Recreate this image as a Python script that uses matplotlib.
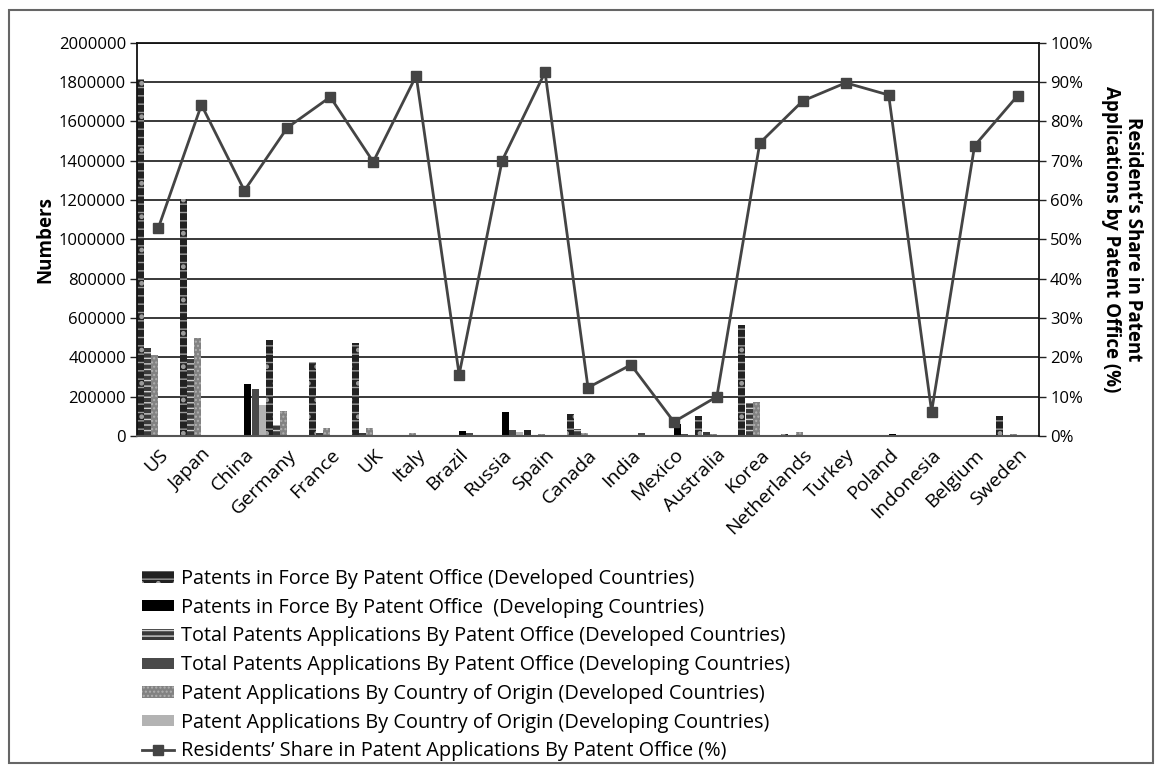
import numpy as np
import matplotlib
matplotlib.use("Agg")
import matplotlib.pyplot as plt
from matplotlib.patches import Rectangle

plt.rcParams['font.family'] = ['Open Sans', 'DejaVu Sans']
plt.rcParams['hatch.linewidth'] = 1.0

nan = np.nan

countries = ["US", "Japan", "China", "Germany", "France", "UK", "Italy", "Brazil",
             "Russia", "Spain", "Canada", "India", "Mexico", "Australia", "Korea",
             "Netherlands", "Turkey", "Poland", "Indonesia", "Belgium", "Sweden"]

# Developed-country series
pif_developed = [1817000, 1205000, nan, 488000, 376000, 475000, 0, nan,
                 nan, 30000, 112000, nan, nan, 102000, 565000,
                 10000, nan, nan, nan, 0, 102000]
tpa_developed = [450000, 390000, nan, 56000, 15000, 17000, 5000, nan,
                 nan, 2000, 36000, nan, nan, 20000, 168000,
                 2000, nan, nan, nan, 1000, 2000]
pao_developed = [410000, 497000, nan, 127000, 42000, 42000, 15000, nan,
                 nan, 8000, 15000, nan, nan, 10000, 173000,
                 20000, nan, nan, nan, 5000, 10000]

# Developing-country series
pif_developing = [nan, nan, 264000, nan, nan, nan, nan, 25000,
                  122000, nan, nan, 3000, 61000, nan, nan,
                  nan, 3000, 10000, 0, nan, nan]
tpa_developing = [nan, nan, 239000, nan, nan, nan, nan, 15000,
                  30000, nan, nan, 15000, 10000, nan, nan,
                  nan, 1000, 1000, 0, nan, nan]
pao_developing = [nan, nan, 158000, nan, nan, nan, nan, 2000,
                  20000, nan, nan, 1000, 2000, nan, nan,
                  nan, 500, 500, 0, nan, nan]

# Residents' share in applications (%)
resident_share = [53.0, 84.2, 62.4, 78.4, 86.2, 69.7, 91.6, 15.6,
                  70.0, 92.5, 12.3, 18.1, 3.6, 10.0, 74.5,
                  85.2, 89.8, 86.7, 6.2, 73.8, 86.5]

y_ticks = list(range(0, 2000001, 200000))
pct_ticks = list(range(0, 101, 10))

series = [
    ("Patents in Force By Patent Office (Developed Countries)", pif_developed,
     dict(facecolor='#222222', edgecolor='#9c9c9c', hatch='--.')),
    ("Patents in Force By Patent Office  (Developing Countries)", pif_developing,
     dict(facecolor='#000000', edgecolor='#000000')),
    ("Total Patents Applications By Patent Office (Developed Countries)", tpa_developed,
     dict(facecolor='#3a3a3a', edgecolor='#cfcfcf', hatch='---')),
    ("Total Patents Applications By Patent Office (Developing Countries)", tpa_developing,
     dict(facecolor='#4a4a4a', edgecolor='#4a4a4a')),
    ("Patent Applications By Country of Origin (Developed Countries)", pao_developed,
     dict(facecolor='#828282', edgecolor='#b0b0b0', hatch='....')),
    ("Patent Applications By Country of Origin (Developing Countries)", pao_developing,
     dict(facecolor='#b3b3b3', edgecolor='#b3b3b3')),
]
# slot order inside each category: developed bars first, developing bars after
slot_of = [0, 3, 1, 4, 2, 5]

fig = plt.figure(figsize=(11.63, 7.74), dpi=100)
W, H = 1163, 774
ax = fig.add_axes([137 / W, 1 - 436 / H, (1039 - 137) / W, (436 - 42.7) / H])

x = np.arange(len(countries))
slot_w = 1.0 / 6

handles = []
for (label, vals, style), slot in zip(series, slot_of):
    pos = x - 0.5 + (slot + 0.5) * slot_w
    b = ax.bar(pos, np.array(vals, dtype=float), width=slot_w * 0.98,
               linewidth=0, zorder=2, label=label, **style)
    handles.append(b)

ax.set_xlim(-0.5, len(countries) - 0.5)
ax.set_ylim(0, 2000000)
ax.set_yticks(y_ticks)
ax.set_yticklabels([str(v) for v in y_ticks], fontsize=12)
ax.yaxis.grid(True, color='#2a2a2a', linewidth=1.3, zorder=0)
ax.set_axisbelow(True)
ax.set_xticks(x)
ax.set_xticklabels(countries, rotation=45, ha='right', rotation_mode='anchor',
                   fontsize=14)
ax.tick_params(axis='x', length=0, pad=7)
ax.tick_params(axis='y', direction='out', length=5, width=1, color='#222222', pad=3)
for side in ['left', 'top']:
    ax.spines[side].set_color('#111111')
    ax.spines[side].set_linewidth(1.3)
ax.spines['bottom'].set_color('#555555')
ax.spines['bottom'].set_linewidth(1.5)
ax.spines['right'].set_visible(False)
ax.set_ylabel("Numbers", fontsize=13.5, fontweight='bold', labelpad=2)

ax2 = ax.twinx()
line, = ax2.plot(x, resident_share, color='#444444', linewidth=2, marker='s',
                 markersize=7, zorder=5,
                 label="Residents\u2019 Share in Patent Applications By Patent Office (%)")
ax2.set_ylim(0, 100)
ax2.set_yticks(pct_ticks)
ax2.set_yticklabels([f"{v}%" for v in pct_ticks], fontsize=12)
ax2.tick_params(axis='y', direction='out', length=5, width=1, color='#222222', pad=3)
ax2.spines['right'].set_color('#111111')
ax2.spines['right'].set_linewidth(1.3)
for side in ['left', 'top', 'bottom']:
    ax2.spines[side].set_visible(False)
ax2.set_ylabel("Resident\u2019s Share in Patent\nApplications by Patent Office (%)",
               fontsize=13.5, fontweight='bold', rotation=270, labelpad=36,
               linespacing=1.1)

fig.legend(handles + [line], [h.get_label() for h in handles] + [line.get_label()],
           loc='upper left', bbox_to_anchor=(142 / W, 1 - 569 / H),
           frameon=False, fontsize=14.3, handlelength=1.6, handleheight=0.5,
           handletextpad=0.35, labelspacing=0.44, borderpad=0, borderaxespad=0)

fig.patches.append(Rectangle((9 / W, 1 - 763 / H), (1153 - 9) / W, (763 - 10) / H,
                             transform=fig.transFigure, fill=False,
                             edgecolor='#666666', linewidth=1.5))

fig.savefig("out.png", dpi=100)
